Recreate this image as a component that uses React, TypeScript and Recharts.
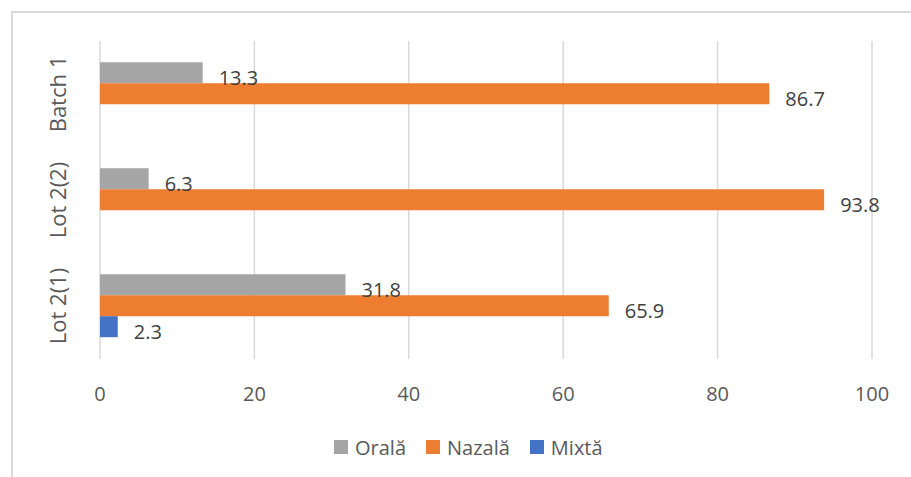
import React from 'react';
import { BarChart, Bar, XAxis, YAxis, CartesianGrid, Legend, LabelList } from 'recharts';

const categories = ['Batch 1', 'Lot 2(2)', 'Lot 2(1)'];
const orala = [13.3, 6.3, 31.8];
const nazala = [86.7, 93.8, 65.9];
const mixta: (number | null)[] = [null, null, 2.3];
const xTicks = [0, 20, 40, 60, 80, 100];

const series = [
  { key: 'orala', name: 'Orală', color: '#A5A5A5' },
  { key: 'nazala', name: 'Nazală', color: '#ED7D31' },
  { key: 'mixta', name: 'Mixtă', color: '#4472C4' },
];

const data = categories.map((c, i) => ({
  cat: c,
  orala: orala[i],
  nazala: nazala[i],
  mixta: mixta[i],
}));

const FONT = '"Open Sans", sans-serif';

const CatTick = (props: any) => {
  const { x, y, payload } = props;
  return (
    <text
      x={x}
      y={y}
      transform={`rotate(-90, ${x}, ${y})`}
      textAnchor="middle"
      fontSize={22}
      fill="#595959"
      fontFamily={FONT}
    >
      {payload.value}
    </text>
  );
};

const renderLabel = (p: any) => {
  if (p.value == null) return null;
  return (
    <text
      x={p.x + p.width + 16}
      y={p.y + p.height / 2 + 5}
      dominantBaseline="central"
      fontSize={20}
      fill="#404040"
      fontFamily={FONT}
    >
      {p.value}
    </text>
  );
};

const LegendContent = () => (
  <div style={{ display: 'flex', alignItems: 'center', height: 40, fontFamily: FONT, fontSize: 20, color: '#595959' }}>
    {series.map((s) => (
      <div key={s.key} style={{ display: 'flex', alignItems: 'center', marginRight: 20 }}>
        <span style={{ display: 'inline-block', width: 14, height: 14, background: s.color, marginRight: 7 }} />
        <span>{s.name}</span>
      </div>
    ))}
  </div>
);

export default function App() {
  return (
    <div style={{ position: 'absolute', left: 0, top: 0, width: 911, height: 477, overflow: 'hidden', background: '#fff' }}>
      <div
        style={{
          position: 'absolute',
          left: 11,
          top: 11,
          width: 1200,
          height: 1200,
          borderTop: '2px solid #d9d9d9',
          borderLeft: '2px solid #d9d9d9',
        }}
      />
      <BarChart
        width={911}
        height={477}
        data={data}
        layout="vertical"
        margin={{ top: 41, right: 39, bottom: 10, left: 0 }}
        barCategoryGap="20%"
        barGap={0}
      >
        <CartesianGrid horizontal={false} stroke="#d9d9d9" strokeWidth={1.5} />
        <XAxis
          type="number"
          domain={[0, 100]}
          ticks={xTicks}
          axisLine={false}
          tickLine={false}
          tickSize={0}
          tickMargin={28}
          height={68}
          tick={{ fontSize: 20, fill: '#595959', fontFamily: FONT }}
        />
        <YAxis
          type="category"
          dataKey="cat"
          width={100}
          axisLine={false}
          tickLine={false}
          tickSize={0}
          tickMargin={34}
          tick={<CatTick />}
        />
        <Legend
          verticalAlign="bottom"
          content={<LegendContent />}
          wrapperStyle={{ left: 334, width: 320, height: 40 }}
        />
        {series.map((s) => (
          <Bar key={s.key} dataKey={s.key} name={s.name} fill={s.color} isAnimationActive={false}>
            <LabelList dataKey={s.key} content={renderLabel} />
          </Bar>
        ))}
      </BarChart>
    </div>
  );
}
